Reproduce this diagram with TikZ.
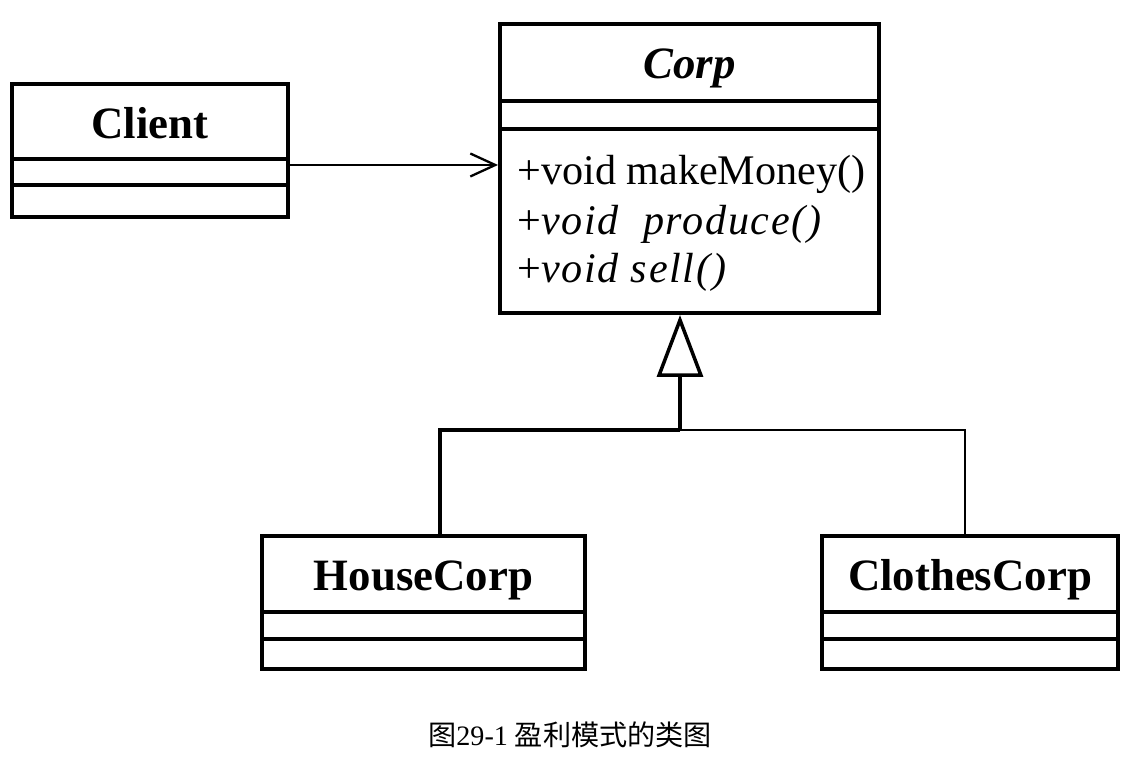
\documentclass[tikz,border=0pt]{standalone}
\usepackage{fontspec}
\setmainfont{Liberation Serif}
\newfontfamily\cjk{Noto Sans CJK SC}
\usetikzlibrary{arrows.meta}
\begin{document}
\begin{tikzpicture}[x=0.02cm,y=-0.02cm,
  classbox/.style={draw,line width=2.3pt,inner sep=0pt,fill=white},
  sepline/.style={line width=1.9pt},
  classtitle/.style={font=\fontsize{25.5}{28}\selectfont\bfseries,inner sep=0pt},
  meth/.style={font=\fontsize{24}{28}\selectfont,anchor=base west,inner sep=0pt},
  thickline/.style={line width=2.3pt},
  thinline/.style={line width=1.1pt},
]
\useasboundingbox (0,0) rectangle (1135,759);

% Client
\node[classbox,minimum width=5.52cm,minimum height=2.66cm] (client) at (150,150.5) {};
\draw[sepline] ([yshift=-1.54cm]client.north west) -- ([yshift=-1.54cm]client.north east);
\draw[sepline] ([yshift=-2.06cm]client.north west) -- ([yshift=-2.06cm]client.north east);
\node[classtitle] (clientname) at ([yshift=-0.82cm]client.north) {Client};

% Corp
\node[classbox,minimum width=7.58cm,minimum height=5.78cm] (corp) at (689.5,168.5) {};
\draw[sepline] ([yshift=-1.58cm]corp.north west) -- ([yshift=-1.58cm]corp.north east);
\draw[sepline] ([yshift=-2.14cm]corp.north west) -- ([yshift=-2.14cm]corp.north east);
\node[classtitle,font=\fontsize{25.5}{28}\selectfont\bfseries\itshape] (corpname) at ([yshift=-0.92cm]corp.north) {Corp};
\node[meth] (m1) at (517,185) {+void makeMoney()};
\node[meth] (m2) at (517,235) {+\textit{\addfontfeature{LetterSpace=4}void\ \ produce()}};
\node[meth] (m3) at (517,283) {+\textit{\addfontfeature{LetterSpace=4}void sell()}};

% HouseCorp
\node[classbox,minimum width=6.46cm,minimum height=2.66cm] (house) at (423.5,602.5) {};
\draw[sepline] ([yshift=-1.56cm]house.north west) -- ([yshift=-1.56cm]house.north east);
\draw[sepline] ([yshift=-2.10cm]house.north west) -- ([yshift=-2.10cm]house.north east);
\node[classtitle] (housename) at ([yshift=-0.92cm]house.north) {HouseCorp};

% ClothesCorp
\node[classbox,minimum width=5.92cm,minimum height=2.66cm] (clothes) at (970,602.5) {};
\draw[sepline] ([yshift=-1.56cm]clothes.north west) -- ([yshift=-1.56cm]clothes.north east);
\draw[sepline] ([yshift=-2.10cm]clothes.north west) -- ([yshift=-2.10cm]clothes.north east);
\node[classtitle] (clothesname) at ([yshift=-0.92cm]clothes.north) {ClothesCorp};

% association
\draw[line width=1.3pt,-{Straight Barb[length=0.5cm,width=0.46cm,line width=1.3pt]}]
  ([yshift=-0.29cm]client.east) -- ([yshift=-0.29cm]client.east -| corp.west);

% generalization
\coordinate (junction) at (680,430);
\coordinate (hleft) at (440,430);
\coordinate (hright) at (965,430);
\draw[line width=2pt,-{Triangle[open,length=1.24cm,width=0.92cm,line width=2pt]}]
  (junction) -- (corp.south -| junction);
\draw[thickline] (junction) -- (hleft) -- (hleft |- house.north);
\draw[thinline] (junction) -- (hright) -- (hright |- clothes.north);

% caption
\node (caption) at (570,735) {\fontsize{16}{19}\selectfont{\cjk 图}29-1 {\cjk 盈利模式的类图}};
\end{tikzpicture}
\end{document}
